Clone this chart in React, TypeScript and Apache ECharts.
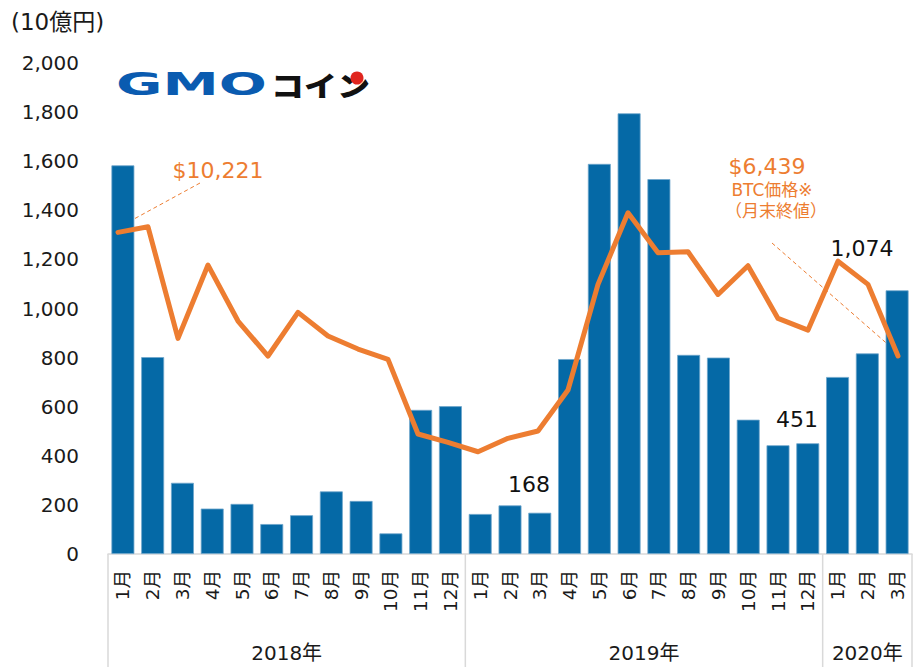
import React, { useEffect, useRef } from "react";
import * as echarts from "echarts";

const months = [
  "1月", "2月", "3月", "4月", "5月", "6月", "7月", "8月", "9月", "10月", "11月", "12月",
  "1月", "2月", "3月", "4月", "5月", "6月", "7月", "8月", "9月", "10月", "11月", "12月",
  "1月", "2月", "3月",
];
const years = ["2018年", "2019年", "2020年"];
const yearSpans = [12, 12, 3];
// 取引高 (10億円)
const volume = [
  1583, 802, 290, 185, 204, 122, 158, 255, 216, 84, 587, 602,
  163, 198, 168, 794, 1589, 1795, 1527, 811, 800, 547, 443, 451,
  721, 817, 1074,
];
// BTC価格 (月末終値, USD)
const btcPrice = [
  10221, 10391, 6980, 9221, 7509, 6439, 7774, 7050, 6653, 6338, 4054, 3800,
  3512, 3922, 4145, 5400, 8630, 10820, 9597, 9627, 8322, 9200, 7590, 7233,
  9340, 8630, 6439,
];
const yTicks = [0, 200, 400, 600, 800, 1000, 1200, 1400, 1600, 1800, 2000];
const labelledBars = [14, 23, 26];

const FONT = "'DejaVu Sans', 'Noto Sans CJK JP', sans-serif";
const ORANGE = "#ed7d31";
const BLUE = "#0569a6";
const fmt = (v: number) => v.toLocaleString("en-US");

export default function App() {
  const ref = useRef<HTMLDivElement>(null);
  useEffect(() => {
    if (!ref.current) return;
    const chart = echarts.init(ref.current, undefined, { renderer: "svg" });
    const option: any = {
      animation: false,
      backgroundColor: "#ffffff",
      textStyle: { fontFamily: FONT },
      grid: [
        { left: 108, right: 1, top: 63, bottom: 113 },
        { left: 103, width: 811, top: 63, bottom: 113 },
      ],
      xAxis: [
        {
          type: "category",
          gridIndex: 0,
          data: months,
          axisLine: { lineStyle: { color: "#d9d9d9", width: 1.5 } },
          axisTick: { show: false },
          axisLabel: {
            rotate: 90,
            fontSize: 18.5,
            color: "#1a1a1a",
            margin: 16,
            interval: 0,
            fontFamily: FONT,
          },
        },
        {
          type: "category",
          gridIndex: 1,
          data: months,
          show: false,
        },
      ],
      yAxis: [
        {
          type: "value",
          gridIndex: 0,
          min: yTicks[0],
          max: yTicks[yTicks.length - 1],
          interval: 200,
          axisLine: { show: false },
          axisTick: { show: false },
          splitLine: { show: false },
          axisLabel: {
            fontSize: 20,
            color: "#1a1a1a",
            margin: 29,
            formatter: (v: number) => fmt(v),
            fontFamily: FONT,
          },
        },
        {
          type: "value",
          gridIndex: 1,
          min: 385,
          max: 15400,
          show: false,
          splitLine: { show: false },
        },
      ],
      series: [
        {
          type: "bar",
          xAxisIndex: 0,
          yAxisIndex: 0,
          data: volume,
          barCategoryGap: "23%",
          itemStyle: { color: BLUE, borderColor: "#6fa6cc", borderWidth: 0.8 },
        },
        {
          type: "line",
          xAxisIndex: 1,
          yAxisIndex: 1,
          data: btcPrice,
          symbol: "none",
          lineStyle: { color: ORANGE, width: 5, cap: "round", join: "round" },
          z: 5,
        },
      ],
    };
    chart.setOption(option);

    const cx = (i: number) => chart.convertToPixel({ xAxisIndex: 0 }, i) as number;
    const band = cx(1) - cx(0);
    const axisY = 554;
    const graphics: any[] = [];
    let start = 0;
    const bounds: number[] = [cx(0) - band / 2];
    yearSpans.forEach((span, k) => {
      const left = cx(start) - band / 2;
      const right = cx(start + span - 1) + band / 2;
      bounds.push(right);
      graphics.push({
        type: "text",
        x: (left + right) / 2,
        y: 653,
        style: {
          text: years[k],
          font: `20px ${FONT}`,
          fill: "#1a1a1a",
          textAlign: "center",
          textVerticalAlign: "middle",
        },
      });
      start += span;
    });
    bounds.forEach((b) => {
      graphics.push({
        type: "line",
        shape: { x1: b, y1: axisY, x2: b, y2: 667 },
        style: { stroke: "#d9d9d9", lineWidth: 1.5 },
      });
    });

    // unit
    graphics.push({
      type: "text",
      x: 11,
      y: 22,
      style: {
        text: "(10億円)",
        font: `23px ${FONT}`,
        fill: "#1a1a1a",
        textVerticalAlign: "middle",
      },
    });

    // logo
    graphics.push({
      type: "text",
      x: 116,
      y: 84,
      scaleX: 1.95,
      scaleY: 1.08,
      style: {
        text: "GMO",
        font: `bold 29px 'DejaVu Sans', sans-serif`,
        fill: "#0a5bb0",
        textVerticalAlign: "middle",
      },
    });
    graphics.push({
      type: "text",
      x: 271,
      y: 85,
      scaleX: 1.18,
      style: {
        text: "コイン",
        font: `900 28px 'Noto Sans CJK JP', sans-serif`,
        fill: "#111111",
        textVerticalAlign: "middle",
      },
    });
    graphics.push({
      type: "circle",
      shape: { cx: 357, cy: 78, r: 6.5 },
      style: { fill: "#e0251e" },
    });

    // bar value labels
    const barLabelPos = [
      [529, 484],
      [797, 419],
      [862, 248],
    ];
    labelledBars.forEach((idx, k) => {
      graphics.push({
        type: "text",
        x: barLabelPos[k][0],
        y: barLabelPos[k][1],
        style: {
          text: fmt(volume[idx]),
          font: `22px ${FONT}`,
          fill: "#111111",
          textAlign: "center",
          textVerticalAlign: "middle",
        },
      });
    });

    // BTC annotations
    graphics.push({
      type: "text",
      x: 218,
      y: 170,
      style: {
        text: "$" + fmt(btcPrice[0]),
        font: `22px ${FONT}`,
        fill: ORANGE,
        textAlign: "center",
        textVerticalAlign: "middle",
      },
    });
    graphics.push({
      type: "line",
      shape: { x1: 200, y1: 183, x2: 112, y2: 231 },
      style: { stroke: ORANGE, lineWidth: 1, lineDash: [4, 3] },
    });
    graphics.push({
      type: "text",
      x: 767,
      y: 166,
      style: {
        text: "$" + fmt(btcPrice[btcPrice.length - 1]),
        font: `22px ${FONT}`,
        fill: ORANGE,
        textAlign: "center",
        textVerticalAlign: "middle",
      },
    });
    graphics.push({
      type: "text",
      x: 772,
      y: 190,
      style: {
        text: "BTC価格※",
        font: `17px ${FONT}`,
        fill: ORANGE,
        textAlign: "center",
        textVerticalAlign: "middle",
      },
    });
    graphics.push({
      type: "text",
      x: 776,
      y: 211,
      style: {
        text: "（月末終値）",
        font: `17px ${FONT}`,
        fill: ORANGE,
        textAlign: "center",
        textVerticalAlign: "middle",
      },
    });
    graphics.push({
      type: "line",
      shape: { x1: 772, y1: 243, x2: 892, y2: 348 },
      style: { stroke: ORANGE, lineWidth: 1, lineDash: [4, 3] },
    });

    chart.setOption({ graphic: graphics });
    return () => chart.dispose();
  }, []);
  return (
    <div
      ref={ref}
      style={{ position: "absolute", left: 0, top: 0, width: 913, height: 667 }}
    />
  );
}
